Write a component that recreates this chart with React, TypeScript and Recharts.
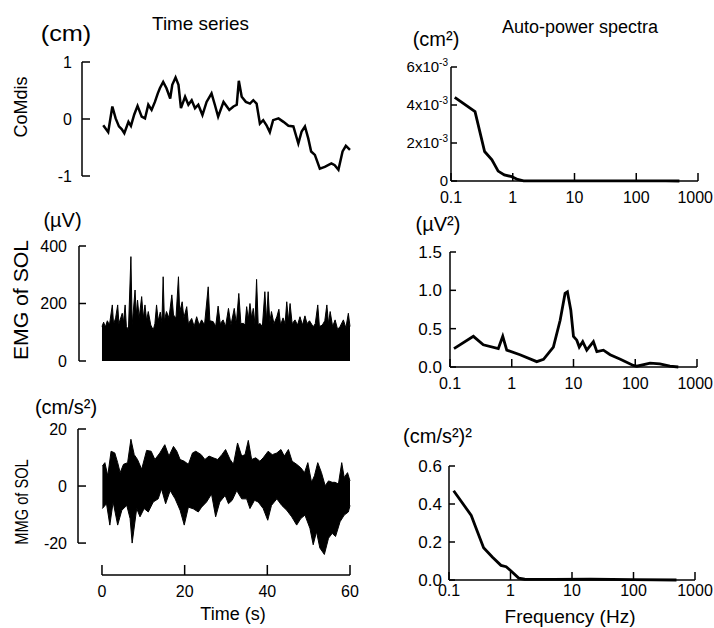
import React from "react";
import {
  LineChart,
  Line,
  AreaChart,
  Area,
  ComposedChart,
  XAxis,
  YAxis,
  ReferenceLine,
} from "recharts";

const FONT = "'Liberation Sans', Arial, Helvetica, sans-serif";
const INK = "#000";

// CoMdis time series (cm)
const comT = [
  0.3, 1.5, 2.5, 3.3, 4.1, 4.8, 5.4, 6.4, 7.0, 7.8, 8.6, 9.6, 10.4, 11.2, 12.0, 12.8, 13.5,
  14.0, 14.8, 15.6, 16.5, 17.0, 17.8, 18.5, 19.1, 20.1, 20.9, 21.7, 22.5, 23.3, 24.3, 25.3,
  26.5, 27.3, 28.1, 29.4, 30.2, 30.8, 31.8, 32.6, 33.1, 33.8, 34.8, 35.8, 36.6, 37.4, 38.2,
  39.0, 39.8, 40.6, 41.4, 42.7, 43.9, 45.1, 46.3, 47.5, 48.3, 49.1, 49.9, 50.6, 51.5, 52.7,
  53.9, 55.5, 56.3, 57.2, 58.2, 59.0, 60.0,
];
const comV = [
  -0.11, -0.23, 0.22, 0.01, -0.13, -0.18, -0.25, -0.05, -0.12, 0.08, 0.23, 0.04, 0.01, 0.25,
  0.16, 0.3, 0.45, 0.54, 0.65, 0.54, 0.36, 0.6, 0.73, 0.6, 0.19, 0.39, 0.25, 0.33, 0.19, 0.25,
  0.07, 0.3, 0.45, 0.25, 0.04, 0.3, 0.22, 0.16, 0.22, 0.25, 0.67, 0.39, 0.3, 0.27, 0.33, 0.27,
  -0.08, -0.02, -0.11, -0.23, -0.02, 0.01, -0.05, -0.12, -0.13, -0.43, -0.22, -0.13, -0.34,
  -0.57, -0.63, -0.87, -0.84, -0.78, -0.81, -0.89, -0.57, -0.47, -0.54,
];

// EMG of SOL, upper envelope of the rectified signal (µV)
const emgT = [
  0.0, 0.4, 0.8, 1.3, 1.8, 2.5, 2.8, 3.3, 3.8, 4.1, 4.9, 5.2, 5.6, 5.9, 6.4, 7.0, 7.3, 8.0,
  8.3, 8.6, 9.0, 9.6, 10.0, 10.4, 10.8, 11.2, 11.8, 12.4, 12.8, 13.2, 13.6, 14.1, 14.5,
  14.8, 15.1, 15.6, 16.2, 16.9, 17.3, 17.9, 18.5, 18.8, 19.4, 19.8, 20.5, 20.9, 21.7, 22.3,
  22.9, 23.5, 24.1, 24.8, 25.7, 26.1, 26.9, 27.5, 28.1, 28.6, 29.3, 29.9, 30.6, 31.2, 32.0,
  32.5, 33.1, 33.6, 34.2, 34.6, 35.0, 35.4, 35.8, 36.2, 36.6, 37.0, 37.4, 37.8, 38.2, 38.8,
  39.4, 39.8, 40.2, 40.6, 41.0, 41.6, 42.3, 42.8, 43.2, 43.8, 44.3, 44.7, 45.1, 45.5, 46.0,
  46.7, 47.3, 47.9, 48.5, 49.1, 49.6, 50.2, 51.1, 51.6, 52.2, 52.6, 53.3, 53.9, 54.4, 54.8,
  55.2, 55.8, 56.4, 57.0, 57.6, 58.4, 59.0, 59.6, 60.0,
];
const emgV = [
  120, 135, 118, 140, 125, 195, 128, 150, 195, 130, 166, 135, 195, 120, 110, 363, 125, 247,
  160, 212, 150, 224, 150, 195, 140, 172, 125, 108, 130, 195, 140, 170, 135, 293, 140, 172,
  150, 230, 160, 150, 293, 170, 206, 150, 189, 130, 148, 120, 154, 125, 143, 125, 258, 140,
  137, 120, 191, 130, 143, 120, 183, 125, 183, 130, 235, 130, 131, 125, 189, 145, 200, 150,
  183, 130, 284, 125, 131, 120, 241, 140, 241, 135, 172, 130, 154, 180, 125, 150, 130, 206,
  140, 200, 130, 143, 125, 154, 125, 157, 130, 140, 119, 130, 195, 120, 125, 140, 195, 130,
  172, 120, 143, 110, 120, 143, 115, 166, 120,
];

// MMG of SOL, upper and lower envelopes (cm/s²)
const mmgUpT = [
  0.1, 0.7, 1.4, 2.2, 3.1, 3.8, 4.4, 5.2, 6.2, 7.0, 7.8, 8.6, 9.6, 10.8, 11.9, 12.8, 14.0,
  15.2, 16.2, 17.3, 18.1, 18.9, 19.9, 20.9, 21.9, 22.7, 24.0, 24.9, 25.9, 26.9, 28.0, 29.0,
  29.9, 31.0, 31.8, 32.8, 33.8, 34.6, 35.4, 36.2, 37.2, 38.2, 39.0, 40.2, 41.2, 42.3, 43.3,
  44.1, 45.1, 46.0, 47.1, 48.1, 49.0, 49.8, 50.7, 51.4, 52.2, 53.1, 54.0, 54.8, 55.7, 56.4,
  57.2, 58.0, 58.6, 59.4, 60.0,
];
const mmgUpV = [
  7.0, 8.2, 3.6, 12.2, 11.6, 8.2, 4.7, 7.6, 8.2, 16.4, 11.0, 9.3, 5.9, 12.5, 12.2, 9.3, 11.6,
  14.5, 10.5, 13.9, 12.2, 9.3, 8.7, 7.6, 11.6, 12.2, 11.0, 9.3, 10.5, 9.9, 9.3, 11.0, 12.8,
  9.3, 7.6, 15.1, 10.5, 11.0, 16.0, 9.3, 9.9, 8.7, 9.9, 12.2, 11.0, 11.6, 12.8, 10.5, 12.8,
  8.7, 7.6, 6.4, 4.7, 8.2, 1.3, 3.6, 8.2, 4.7, 0.1, 1.8, 1.3, 1.3, 0.7, 8.2, 3.0, 4.7, 1.8,
];
const mmgLoT = [
  0.1, 1.1, 1.9, 2.7, 3.8, 4.8, 6.0, 6.8, 7.3, 8.4, 9.2, 10.2, 11.2, 12.4, 13.6, 14.4, 15.4,
  16.5, 17.7, 18.9, 19.9, 20.9, 22.1, 23.3, 24.1, 25.3, 26.5, 27.5, 28.5, 29.8, 30.6, 31.5,
  32.6, 33.8, 35.0, 35.8, 36.9, 37.8, 39.0, 40.1, 41.0, 42.3, 43.5, 44.7, 45.9, 47.1, 48.1,
  49.1, 50.3, 51.1, 51.9, 52.7, 53.8, 54.8, 55.7, 56.5, 57.6, 58.6, 59.6, 60.0,
];
const mmgLoV = [
  -7.9, -6.2, -13.7, -5.6, -13.7, -8.5, -6.8, -11.4, -20.0, -7.9, -10.8, -7.9, -9.1, -5.6,
  -4.5, -1.0, -6.2, -1.6, -4.5, -8.5, -13.7, -7.4, -8.0, -9.1, -7.4, -5.6, -2.8, -10.8,
  -5.6, -3.3, -6.2, -5.0, -1.6, -4.5, -4.5, -7.9, -5.0, -5.6, -7.9, -12.0, -6.8, -4.5,
  -6.8, -8.5, -10.8, -13.7, -11.4, -10.2, -14.8, -20.6, -16.0, -21.7, -24.0, -18.3, -16.6,
  -17.7, -12.5, -10.2, -9.1, -6.8,
];

// Auto-power spectra
const comSpecF = [0.115, 0.245, 0.35, 0.46, 0.58, 0.73, 0.96, 1.2, 1.5, 3, 10, 30, 100, 300, 500];
const comSpecV = [
  0.0044, 0.00365, 0.00155, 0.00112, 0.00052, 0.00032, 0.00023, 0.00008, 0.00001, 0.000005,
  0.00001, 0.000005, 0.00001, 0.000005, 0,
];
const emgSpecF = [
  0.116, 0.239, 0.346, 0.606, 0.715, 0.83, 1.36, 2.54, 3.27, 4.72, 6.08, 7.3, 7.97, 9.05,
  9.99, 11.3, 12.4, 14.1, 16.4, 21.0, 23.9, 30.5, 39.2, 57.4, 93, 106, 174, 250, 364, 498,
];
const emgSpecV = [
  0.24, 0.4, 0.29, 0.24, 0.4, 0.22, 0.16, 0.07, 0.1, 0.26, 0.61, 0.96, 0.98, 0.74, 0.4, 0.35,
  0.26, 0.33, 0.22, 0.33, 0.2, 0.22, 0.16, 0.1, 0.02, 0.01, 0.05, 0.04, 0.01, 0,
];
const mmgSpecF = [0.119, 0.23, 0.27, 0.365, 0.51, 0.7, 0.85, 1.0, 1.36, 1.7, 5, 20, 100, 500];
const mmgSpecV = [0.47, 0.34, 0.28, 0.17, 0.12, 0.077, 0.07, 0.05, 0.01, 0.004, 0.003, 0.004, 0.002, 0];

const freqTicks = [0.1, 1, 10, 100, 1000];
const timeTicks = [0, 20, 40, 60];

const pairs = (xs: number[], ys: number[], k = "t") => xs.map((x, i) => ({ [k]: x, v: ys[i] }));

// place a chart so its plot area lands on the given pixel box
function frame(x0: number, y0: number, x1: number, y1: number, yw: number, xh: number) {
  const pad = 22;
  return {
    style: { position: "absolute" as const, left: x0 - yw - pad, top: y0 - pad },
    width: x1 - x0 + yw + 2 * pad,
    height: y1 - y0 + xh + 2 * pad,
    margin: { top: pad, right: pad, bottom: pad, left: pad },
  };
}

const leftTick =
  (gap: number, len: number, fmt: (v: number) => React.ReactNode, size = 16) =>
  (p: any) => (
    <g>
      <line x1={p.x} y1={p.y} x2={p.x + len} y2={p.y} stroke={INK} strokeWidth={1.5} />
      <text x={p.x - gap} y={p.y} dy="0.35em" textAnchor="end" fontFamily={FONT} fontSize={size} fill={INK}>
        {fmt(p.payload.value)}
      </text>
    </g>
  );

// the last frequency label sits at the page edge, so it is right-aligned there
const bottomTick = (off: number, len: number, fmt: (v: number) => string, edge = 0) => (p: any) => {
  const atEdge = edge > 0 && p.x + 17 > edge;
  return (
    <g>
      <line x1={p.x} y1={p.y} x2={p.x} y2={p.y - len} stroke={INK} strokeWidth={1.5} />
      <text
        x={atEdge ? edge : p.x}
        y={p.y + off}
        dy="0.35em"
        textAnchor={atEdge ? "end" : "middle"}
        fontFamily={FONT}
        fontSize={16}
        fill={INK}
      >
        {fmt(p.payload.value)}
      </text>
    </g>
  );
};

const axisLine = { stroke: INK, strokeWidth: 1.5 };
const fmtFreq = (v: number) => String(v);
const fmtSci = (v: number) =>
  v === 0 ? (
    "0"
  ) : (
    <>
      {Math.round(v * 1000)}x10
      <tspan dy={-6} fontSize={10}>
        -3
      </tspan>
    </>
  );

function Spectrum(props: {
  box: [number, number, number, number];
  data: { f: number; v: number }[];
  yMax: number;
  yTicks: number[];
  gap: number;
  off: number;
  size: number;
  fmt: (v: number) => React.ReactNode;
}) {
  const [x0, y0, x1, y1] = props.box;
  const f = frame(x0, y0, x1, y1, 60, 30);
  // right edge of the page, in this chart's own coordinates
  const edge = 713 - f.style.left;
  return (
    <div style={f.style}>
      <LineChart width={f.width} height={f.height} margin={f.margin} data={props.data}>
        <XAxis
          type="number"
          dataKey="f"
          scale="log"
          domain={[0.1, 1000]}
          ticks={freqTicks}
          allowDataOverflow
          height={30}
          axisLine={axisLine}
          tickLine={false}
          tickSize={0}
          tickMargin={0}
          interval={0}
          tick={bottomTick(props.off, 8, fmtFreq, edge)}
        />
        <YAxis
          type="number"
          domain={[0, props.yMax]}
          ticks={props.yTicks}
          width={60}
          axisLine={axisLine}
          tickLine={false}
          tickSize={0}
          tickMargin={0}
          interval={0}
          tick={leftTick(props.gap, 6, props.fmt, props.size)}
        />
        <Line
          type="linear"
          dataKey="v"
          stroke={INK}
          strokeWidth={2.8}
          dot={false}
          isAnimationActive={false}
        />
      </LineChart>
    </div>
  );
}

function Labels() {
  // sx stretches or squeezes a label along its reading direction
  const t = (s: string, x: number, y: number, size: number, sx = 1, rot = false) => (
    <text
      x={0}
      y={0}
      fontFamily={FONT}
      fontSize={size}
      fill={INK}
      textAnchor="middle"
      transform={`translate(${x} ${y})${rot ? " rotate(-90)" : ""} scale(${sx} 1)`}
    >
      {s}
    </text>
  );
  return (
    <svg width={714} height={628} style={{ position: "absolute", left: 0, top: 0, pointerEvents: "none" }}>
      {t("Time series", 200.5, 29.5, 18, 1.05)}
      {t("Auto-power spectra", 580, 33, 18)}
      {t("(cm)", 66, 41, 22, 1.15)}
      {t("(µV)", 62.5, 227, 20)}
      {t("(cm/s²)", 66, 414, 20)}
      {t("(cm²)", 436, 46, 20)}
      {t("(µV²)", 438, 231, 20)}
      {t("(cm/s²)²", 437.5, 443, 20)}
      {t("CoMdis", 27, 107, 18, 1, true)}
      {t("EMG of SOL", 27.5, 300, 20, 1.06, true)}
      {t("MMG of SOL", 27.5, 502, 19, 0.77, true)}
      {t("Time (s)", 233, 620, 18)}
      {t("Frequency (Hz)", 570, 623, 19)}
    </svg>
  );
}

export default function App() {
  const comData = pairs(comT, comV);
  const emgData = pairs(emgT, emgV);
  const mmgUp = pairs(mmgUpT, mmgUpV);
  const mmgLo = pairs(mmgLoT, mmgLoV);

  const fa = frame(82, 62, 350, 176, 60, 0);
  const fb = frame(79, 246, 350, 361, 60, 0);
  const fc = frame(78, 429, 350, 575, 60, 30);
  const mmgBottom = -31.2;

  return (
    <div style={{ position: "absolute", left: 0, top: 0, width: 714, height: 628, background: "#fff" }}>
      {/* CoMdis time series */}
      <div style={fa.style}>
        <LineChart width={fa.width} height={fa.height} margin={fa.margin} data={comData}>
          <XAxis type="number" dataKey="t" domain={[-4.84, 60]} hide />
          <YAxis
            type="number"
            domain={[-1, 1]}
            ticks={[-1, 0, 1]}
            width={60}
            axisLine={axisLine}
            tickLine={false}
            tickSize={0}
            tickMargin={0}
            interval={0}
            tick={leftTick(10, 8, (v) => String(v))}
          />
          <Line type="linear" dataKey="v" stroke={INK} strokeWidth={2.5} dot={false} isAnimationActive={false} />
        </LineChart>
      </div>

      {/* EMG time series */}
      <div style={fb.style}>
        <AreaChart width={fb.width} height={fb.height} margin={fb.margin} data={emgData}>
          <XAxis type="number" dataKey="t" domain={[-5.56, 60]} hide />
          <YAxis
            type="number"
            domain={[0, 400]}
            ticks={[0, 200, 400]}
            width={60}
            axisLine={axisLine}
            tickLine={false}
            tickSize={0}
            tickMargin={0}
            interval={0}
            tick={leftTick(12, 7, (v) => String(v))}
          />
          <Area
            type="linear"
            dataKey="v"
            baseValue={0}
            stroke={INK}
            strokeWidth={1}
            fill={INK}
            fillOpacity={1}
            isAnimationActive={false}
          />
        </AreaChart>
      </div>

      {/* MMG time series */}
      <div style={fc.style}>
        <ComposedChart width={fc.width} height={fc.height} margin={fc.margin}>
          <XAxis
            type="number"
            dataKey="t"
            domain={[-5.8, 60]}
            ticks={timeTicks}
            height={30}
            axisLine={false}
            tickLine={false}
            tickSize={0}
            tickMargin={0}
            interval={0}
            tick={bottomTick(16, 10, (v) => String(v))}
          />
          <YAxis
            type="number"
            domain={[mmgBottom, 20]}
            ticks={[-20, 0, 20]}
            width={60}
            axisLine={false}
            tickLine={false}
            tickSize={0}
            tickMargin={0}
            interval={0}
            tick={leftTick(11, 8, (v) => String(v))}
          />
          <Area
            data={mmgUp}
            type="linear"
            dataKey="v"
            baseValue={0}
            stroke={INK}
            strokeWidth={1}
            fill={INK}
            fillOpacity={1}
            isAnimationActive={false}
          />
          <Area
            data={mmgLo}
            type="linear"
            dataKey="v"
            baseValue={0}
            stroke={INK}
            strokeWidth={1}
            fill={INK}
            fillOpacity={1}
            isAnimationActive={false}
          />
          <ReferenceLine
            segment={[{ x: -5.8, y: -20 }, { x: -5.8, y: 20 }]}
            stroke={INK}
            strokeWidth={1.5}
            ifOverflow="visible"
          />
          <ReferenceLine
            segment={[{ x: 0, y: mmgBottom }, { x: 60, y: mmgBottom }]}
            stroke={INK}
            strokeWidth={1.5}
            ifOverflow="visible"
          />
        </ComposedChart>
      </div>

      <Spectrum
        box={[451, 67, 698, 181]}
        data={pairs(comSpecF, comSpecV, "f") as any}
        yMax={0.006}
        yTicks={[0, 0.002, 0.004, 0.006]}
        gap={3}
        off={16}
        size={15}
        fmt={fmtSci}
      />
      <Spectrum
        box={[450, 252, 697, 367]}
        data={pairs(emgSpecF, emgSpecV, "f") as any}
        yMax={1.5}
        yTicks={[0, 0.5, 1, 1.5]}
        gap={8}
        off={16}
        size={17}
        fmt={(v) => v.toFixed(1)}
      />
      <Spectrum
        box={[449, 466, 695, 580]}
        data={pairs(mmgSpecF, mmgSpecV, "f") as any}
        yMax={0.6}
        yTicks={[0, 0.2, 0.4, 0.6]}
        gap={7}
        off={10}
        size={17}
        fmt={(v) => v.toFixed(1)}
      />

      <Labels />
    </div>
  );
}
